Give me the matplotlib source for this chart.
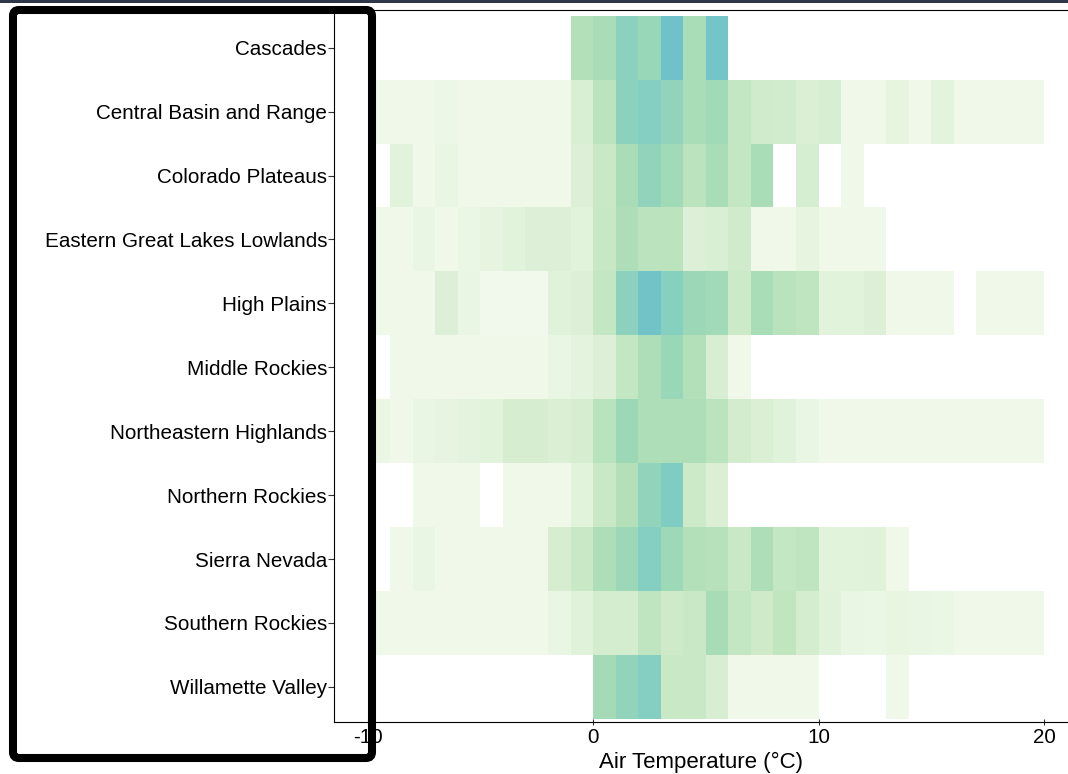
import numpy as np
import matplotlib
matplotlib.use("Agg")
from matplotlib import pyplot as plt
from matplotlib.colors import LinearSegmentedColormap
from matplotlib.patches import FancyBboxPatch, Rectangle

nan = np.nan

# 1 degree temperature bins, left edges -10 .. 19
temp_edges = np.arange(-10, 21)

regions = [
    "Cascades",
    "Central Basin and Range",
    "Colorado Plateaus",
    "Eastern Great Lakes Lowlands",
    "High Plains",
    "Middle Rockies",
    "Northeastern Highlands",
    "Northern Rockies",
    "Sierra Nevada",
    "Southern Rockies",
    "Willamette Valley",
]

# relative density per bin (read off the shading), nan = no data
cascades = [nan] * 9 + [5, 5.5, 7.5, 6.5, 10, 5.5, 9.5] + [nan] * 14
central_basin = [1, 1, 1, 1.1, 1, 1, 1, 1, 1, 2.3, 4.5, 7.5, 8, 7, 5.5, 6, 4, 3, 2.9, 2.2,
                 2.4, 1, 1, 1.5, 1, 1.6, 1, 1, 1, 1]
colorado = [nan, 1.7, 1, 1.3, 1, 1, 1, 1, 1, 2, 3.5, 5.5, 7, 6, 4.5, 5.5, 4, 5.5, nan, 2.6,
            nan, 1] + [nan] * 8
great_lakes = [1, 1, 1.3, 1, 1.2, 1.5, 1.7, 2, 2, 1.7, 3.8, 5.3, 4.5, 4.5, 2, 2.3, 3, 1, 1, 1.5,
               1, 1, 1] + [nan] * 7
high_plains = [1, 1, 1, 2, 1.3, 0.9, 0.9, 0.9, 1.8, 2, 4, 7.5, 9.8, 7.8, 6.3, 6, 3.3, 5.5, 4.6, 4.3,
               1.7, 1.7, 2, 1, 1, 1, nan, 1, 1, 1]
middle_rockies = [nan, 1, 1, 1, 1, 1, 1, 1, 1.3, 1.6, 2, 4, 5.3, 6.5, 5, 2.4, 1] + [nan] * 13
ne_highlands = [1.2, 1, 1.3, 1.5, 1.6, 1.7, 2.5, 2.5, 2.2, 2.5, 4.6, 6.3, 5.3, 5.3, 5.3, 4.5, 2.8,
                2.2, 1.8, 1.3] + [1] * 10
northern_rockies = [nan, nan, 1, 1, 1, nan, 1, 1, 1, 1.7, 3.5, 5, 7, 8.5, 3.3, 2.2] + [nan] * 14
sierra_nevada = [nan, 1, 1.3, 1, 1, 1, 1, 1, 2.5, 3.5, 5.3, 6.3, 8, 6.2, 5, 4.8, 3.6, 5.3, 4, 4.3,
                 1.7, 1.7, 1.8, 1] + [nan] * 6
southern_rockies = [1] * 8 + [1.3, 1.8, 2.7, 2.7, 4.3, 3.2, 3.6, 5.6, 4, 3.2, 4.2, 2.7, 1.8, 1.3,
                              1.2, 1.4, 1.3, 1.2, 1, 1, 1, 1]
willamette = [nan] * 10 + [5.8, 7, 8, 3.6, 3.6, 2.4, 1, 1, 1, 1, nan, nan, nan, 1] + [nan] * 6

rows = [cascades, central_basin, colorado, great_lakes, high_plains, middle_rockies,
        ne_highlands, northern_rockies, sierra_nevada, southern_rockies, willamette]
grid = np.ma.masked_invalid(np.array(rows, dtype=float))

levels = [0.9, 1, 2, 3, 4, 5, 6, 7, 8, 10]
level_colors = ["#f1f9ec", "#eef8e8", "#dcf0d6", "#d0ebcb", "#c3e7c2", "#b3e0b8",
                "#a0dab6", "#92d4bb", "#84cfc1", "#6fc2c9"]
vmin, vmax = levels[0], levels[-1]
cmap = LinearSegmentedColormap.from_list(
    "density", [((lv - vmin) / (vmax - vmin), c) for lv, c in zip(levels, level_colors)])

plt.rcParams["font.family"] = ["Liberation Sans", "DejaVu Sans"]
plt.rcParams["axes.unicode_minus"] = False

fig = plt.figure(figsize=(10.68, 7.74), dpi=100)
ax = fig.add_axes([334 / 1068, 52 / 774, 734 / 1068, 712 / 774])

y_edges = np.arange(len(regions) + 1) - 0.5
ax.pcolormesh(temp_edges, y_edges, grid, cmap=cmap, vmin=vmin, vmax=vmax,
              edgecolors="none", antialiased=False)

ax.set_xlim(-11.49, 21.06)
ax.set_ylim(10.55, -0.59)
ax.set_yticks(range(len(regions)))
ax.set_yticklabels(regions)
ax.set_xticks([-10, 0, 10, 20])
ax.tick_params(axis="y", direction="out", length=4, width=0.8, color="#333333",
               labelsize=14.9, pad=1)
ax.tick_params(axis="x", direction="inout", length=5, width=0.8, color="#333333",
               labelsize=14.9, pad=2)
ax.set_xlabel("Air Temperature (°C)", fontsize=16, labelpad=3)
for side in ["left", "bottom", "top"]:
    ax.spines[side].set_linewidth(0.8)
ax.spines["right"].set_visible(False)

# dark strip along the top of the screenshot
fig.patches.append(Rectangle((0, 1 - 3 / 774), 1, 3 / 774, transform=fig.transFigure,
                             facecolor="#2d3748", edgecolor="none", zorder=5))
# black highlight box around the region labels
fig.patches.append(FancyBboxPatch((0.13, 0.16), 3.59, 7.48,
                                  boxstyle="round,pad=0,rounding_size=0.06",
                                  transform=fig.dpi_scale_trans, facecolor="none",
                                  edgecolor="black", linewidth=5.8, zorder=6))

fig.savefig("out.png", dpi=100)
